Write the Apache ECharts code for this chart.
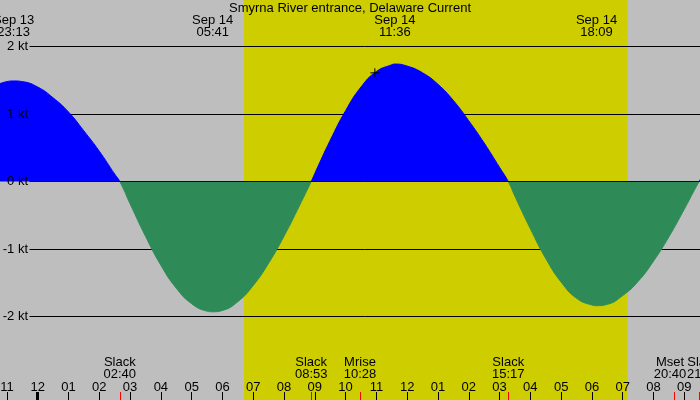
<!DOCTYPE html>
<html>
<head>
<meta charset="utf-8">
<script src="https://cdn.jsdelivr.net/npm/echarts@6/dist/echarts.min.js"></script>
<style>
  html, body { margin: 0; padding: 0; background: #bebebe; }
  #chart { width: 700px; height: 400px; }
</style>
</head>
<body>
<div id="chart"></div>
<script>
// time axis is hours from Sep 14 00:00 (negative = Sep 13)
const hours = [
  -1.5, -1.0, -0.783, -0.5, 0.0, 0.5, 1.0, 1.5, 2.0, 2.5, 2.667, 3.0, 3.5, 4.0,
  4.5, 5.0, 5.5, 5.683, 6.0, 6.5, 7.0, 7.5, 8.0, 8.5, 8.883, 9.0, 9.5, 10.0,
  10.5, 11.0, 11.5, 11.6, 12.0, 12.5, 13.0, 13.5, 14.0, 14.5, 15.0, 15.283, 15.5, 16.0,
  16.5, 17.0, 17.5, 18.0, 18.15, 18.5, 19.0, 19.5, 20.0, 20.5, 21.0, 21.483, 22.0
];
const knots = [
  1.40, 1.48, 1.49, 1.48, 1.40, 1.24, 1.03, 0.75, 0.45, 0.11, 0.00, -0.33, -0.81, -1.24,
  -1.58, -1.81, -1.92, -1.93, -1.91, -1.78, -1.54, -1.21, -0.81, -0.36, 0.00, 0.12, 0.61, 1.05,
  1.40, 1.63, 1.73, 1.74, 1.71, 1.61, 1.44, 1.20, 0.90, 0.57, 0.21, 0.00, -0.22, -0.70,
  -1.14, -1.49, -1.73, -1.83, -1.84, -1.82, -1.69, -1.48, -1.18, -0.82, -0.41, 0.00, 0.40
];

const hourTicks = [-1, 0, 1, 2, 3, 4, 5, 6, 7, 8, 9, 10, 11, 12, 13, 14, 15, 16, 17, 18, 19, 20, 21];
const midnightTicks = [0];
const levelTicks = [-2, -1, 0, 1, 2];

const extremaTimes = [-0.783, 5.683, 11.6, 18.15];
const extremaLabels = ['Sep 13\n23:13', 'Sep 14\n05:41', 'Sep 14\n11:36', 'Sep 14\n18:09'];

const eventTimes = [2.667, 8.883, 10.467, 15.283, 20.667, 21.483];
const eventNames = ['Slack', 'Slack', 'Mrise', 'Slack', 'Mset', 'Slack'];
const eventClock = ['02:40', '08:53', '10:28', '15:17', '20:40', '21:29'];
const eventShift = ['c', 'c', 'c', 'c', 'l', 'r']; // last two captions pushed apart

const daylight = [6.70, 19.16];
const nowMark = [[10.95, 1.61]];

const X_MIN = -1.2244;
const X_MAX = 21.51;
const Y_MIN = -3.237;
const Y_MAX = 2.689;
const LINE_START = -0.266;       // level lines start right of their labels
const EVENT_LABEL_LEVEL = -2.77; // where the event captions sit, in kt

const FONT = 'Liberation Sans';

function clockHour(v) {
  let h = ((v % 12) + 12) % 12;
  if (h === 0) h = 12;
  return (h < 10 ? '0' : '') + h;
}

function baseX(extra) {
  return Object.assign({
    type: 'value',
    min: X_MIN,
    max: X_MAX,
    position: 'bottom',
    axisLine: { show: false, onZero: false },
    splitLine: { show: false },
    axisTick: { show: false },
    axisLabel: { show: false },
    z: 5
  }, extra);
}

const capStyle = { fontFamily: FONT, fontSize: 13, lineHeight: 12, color: '#000', textBorderWidth: 0, opacity: 1 };

const chart = echarts.init(document.getElementById('chart'));

const option = {
  animation: false,
  backgroundColor: '#bebebe',
  textStyle: { fontFamily: FONT },
  title: {
    text: 'Smyrna River entrance, Delaware Current',
    left: 'center',
    top: 2,
    padding: 0,
    textStyle: { fontFamily: FONT, fontSize: 13, fontWeight: 'normal', color: '#000' }
  },
  grid: { left: 0, right: 0, top: 0, bottom: 0, containLabel: false, outerBoundsMode: 'none' },
  visualMap: {
    show: false,
    type: 'piecewise',
    seriesIndex: 0,
    dimension: 1,
    pieces: [
      { gt: -10, lt: 0, color: '#2e8b57' },
      { gte: 0, lt: 10, color: '#0000ff' }
    ]
  },
  xAxis: [
    baseX({
      axisTick: { show: true, inside: true, length: 8, customValues: hourTicks, lineStyle: { color: '#000', width: 1 } },
      axisLabel: {
        show: true, inside: true, margin: 6, customValues: hourTicks,
        showMinLabel: true, showMaxLabel: true,
        fontFamily: FONT, fontSize: 13, color: '#000',
        formatter: clockHour
      }
    }),
    baseX({
      axisTick: { show: true, inside: true, length: 8, customValues: midnightTicks, lineStyle: { color: '#000', width: 3 } }
    }),
    baseX({
      axisTick: { show: true, inside: true, length: 8, customValues: eventTimes, lineStyle: { color: '#ff0000', width: 1 } }
    }),
    baseX({
      position: 'top',
      axisLabel: {
        show: true, inside: true, margin: 15, customValues: extremaTimes,
        showMinLabel: true, showMaxLabel: true,
        fontFamily: FONT, fontSize: 13, color: '#000', lineHeight: 11.5,
        formatter: function (v) { return extremaLabels[extremaTimes.indexOf(v)]; }
      }
    })
  ],
  yAxis: {
    type: 'value',
    min: Y_MIN,
    max: Y_MAX,
    axisLine: { show: false, onZero: false },
    axisTick: { show: false },
    splitLine: { show: false },
    axisLabel: {
      inside: true, margin: 28, align: 'right', customValues: levelTicks,
      showMinLabel: true, showMaxLabel: true,
      fontFamily: FONT, fontSize: 13, color: '#000',
      formatter: function (v) { return v + ' kt'; }
    },
    z: 5
  },
  series: [
    {
      type: 'line',
      xAxisIndex: 0,
      data: hours.map((h, i) => [h, knots[i]]),
      smooth: true,
      showSymbol: false,
      lineStyle: { width: 1 },
      areaStyle: { opacity: 1 },
      z: 3,
      markArea: {
        silent: true,
        z: 1,
        itemStyle: { color: '#cdcd00', opacity: 1 },
        data: [[{ xAxis: daylight[0] }, { xAxis: daylight[1] }]]
      },
      markLine: {
        silent: true,
        z: 2,
        symbol: ['none', 'none'],
        label: { show: false },
        lineStyle: { color: '#000', width: 1, type: 'solid' },
        data: levelTicks.map(v => [{ coord: [LINE_START, v] }, { coord: [X_MAX, v] }])
      }
    },
    {
      type: 'scatter',
      xAxisIndex: 0,
      data: nowMark,
      symbol: 'path://M0,5H10M5,0V10',
      symbolSize: 9,
      itemStyle: { color: 'none', borderColor: '#000', borderWidth: 1, opacity: 1 },
      z: 4
    },
    {
      type: 'scatter',
      xAxisIndex: 0,
      silent: true,
      clip: false,
      symbol: 'circle',
      symbolSize: 0,
      itemStyle: { color: 'transparent', opacity: 1 },
      z: 5,
      data: eventTimes.map(t => [t, EVENT_LABEL_LEVEL]),
      label: Object.assign({
        show: true,
        position: [0, 0],
        align: 'center',
        verticalAlign: 'middle',
        formatter: function (p) {
          const k = eventShift[p.dataIndex];
          return '{' + k + '|' + eventNames[p.dataIndex] + '}\n{' + k + '|' + eventClock[p.dataIndex] + '}';
        },
        rich: {
          c: capStyle,
          l: Object.assign({ padding: [0, 8, 0, 0] }, capStyle),
          r: Object.assign({ padding: [0, 0, 0, 8] }, capStyle)
        }
      }, capStyle),
      labelLayout: { hideOverlap: false }
    }
  ]
};

chart.setOption(option);
</script>
</body>
</html>
